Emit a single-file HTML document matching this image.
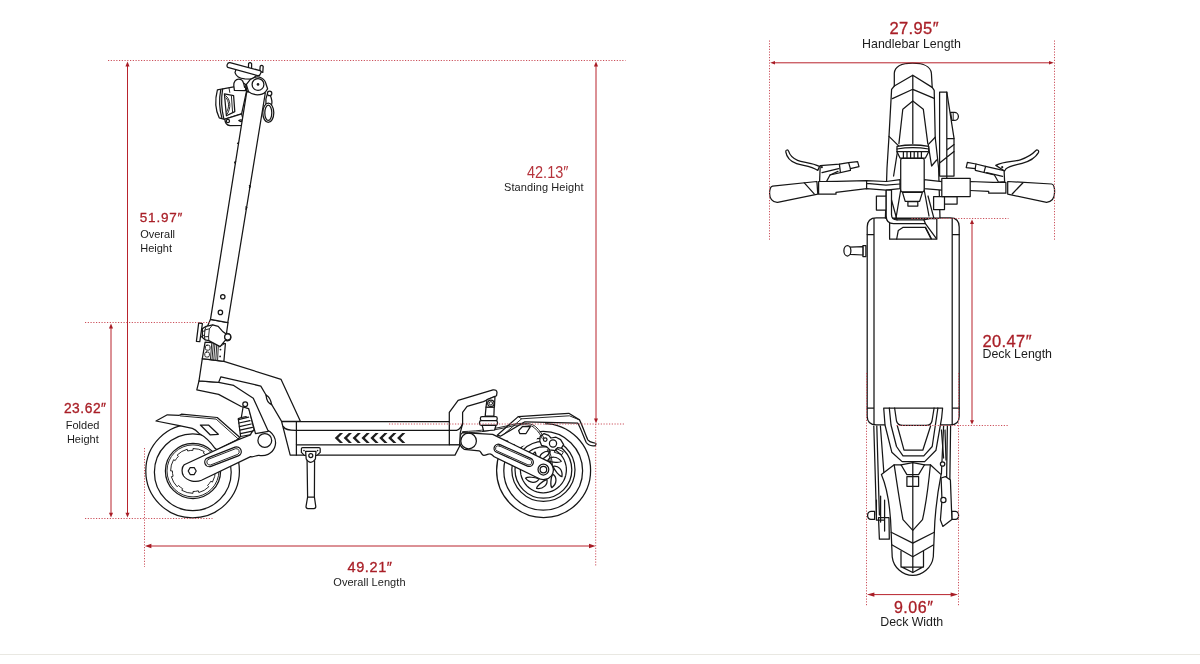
<!DOCTYPE html>
<html lang="en">
<head>
<meta charset="utf-8">
<title>Scooter Dimensions</title>
<style>
  html, body { margin: 0; padding: 0; background: #ffffff; }
  body { width: 1200px; height: 664px; overflow: hidden; font-family: "Liberation Sans", sans-serif; }
  svg { display: block; position: absolute; left: 0; top: 0; will-change: transform; transform: translateZ(0); }
  .num  { font-family: "Liberation Sans", sans-serif; fill: #a91f27; stroke: #a91f27; stroke-width: 0.3px; }
  .numl { font-family: "Liberation Sans", sans-serif; fill: #b5333b; }
  .lbl  { font-family: "Liberation Sans", sans-serif; fill: #1c1c1c; }
  .dim  { stroke: #b8232d; stroke-width: 1; fill: none; }
  .dot  { stroke: #cb4f5a; stroke-width: 1; fill: none; stroke-dasharray: 1.2 1.55; }
  .ah   { fill: #a81c25; stroke: none; }
  .art  { fill: none; stroke: #161616; stroke-width: 1.25; stroke-linejoin: round; stroke-linecap: round; }
  .artw { fill: #ffffff; stroke: #161616; stroke-width: 1.25; stroke-linejoin: round; stroke-linecap: round; }
  .thin { fill: none; stroke: #1c1c1c; stroke-width: 0.95; stroke-linejoin: round; stroke-linecap: round; }
  .blk  { fill: #1e1e1e; stroke: none; }
</style>
</head>
<body>
<svg width="1200" height="664" viewBox="0 0 1200 664">
  <rect x="0" y="0" width="1200" height="664" fill="#ffffff"/>
  <!-- bottom rule -->
  <rect x="0" y="654" width="1200" height="1" fill="#e9e8e2"/>

  <!-- ============ LABELS ============ -->
  <g id="labels">
    <text class="num" x="139.8" y="222.4" font-size="13.5" textLength="42.6" lengthAdjust="spacing">51.97″</text>
    <text class="lbl" x="140.2" y="238.4" font-size="11">Overall</text>
    <text class="lbl" x="140.2" y="252" font-size="11">Height</text>

    <text class="num" x="63.9" y="412.5" font-size="13.8" textLength="42.1" lengthAdjust="spacing">23.62″</text>
    <text class="lbl" x="82.6" y="429.4" font-size="11" text-anchor="middle">Folded</text>
    <text class="lbl" x="82.8" y="442.9" font-size="11" text-anchor="middle">Height</text>

    <text class="numl" x="527" y="177.5" font-size="16.6" textLength="41.4" lengthAdjust="spacingAndGlyphs">42.13″</text>
    <text class="lbl" x="504" y="190.9" font-size="11" textLength="79.5" lengthAdjust="spacing">Standing Height</text>

    <text class="num" x="347.5" y="571.5" font-size="14.5" textLength="44.5" lengthAdjust="spacing">49.21″</text>
    <text class="lbl" x="333.3" y="586" font-size="11" textLength="72.2" lengthAdjust="spacing">Overall Length</text>

    <text class="num" x="889.5" y="33.8" font-size="16.5" textLength="49" lengthAdjust="spacing">27.95″</text>
    <text class="lbl" x="862" y="47.8" font-size="12.4" textLength="99" lengthAdjust="spacing">Handlebar Length</text>

    <text class="num" x="982.5" y="346.8" font-size="16.5" textLength="49" lengthAdjust="spacing">20.47″</text>
    <text class="lbl" x="982.5" y="358.3" font-size="12.4" textLength="69.5" lengthAdjust="spacing">Deck Length</text>

    <text class="num" x="893.9" y="612.8" font-size="16" textLength="39" lengthAdjust="spacing">9.06″</text>
    <text class="lbl" x="880.3" y="625.8" font-size="12.4" textLength="62.9" lengthAdjust="spacing">Deck Width</text>
  </g>

  <!-- ============ SIDE VIEW ART ============ -->
  <g id="side">
    <!-- ===== front wheel ===== -->
    <circle class="artw" cx="192.6" cy="471" r="46.8"/>
    <circle class="art" cx="192.8" cy="472.2" r="38.4"/>
    <circle class="art" cx="193" cy="470.9" r="27.6"/>
    <circle class="thin" cx="193" cy="470.9" r="26"/>
    <path class="thin" d="M215.40 470.90 A22.4 22.4 0 0 1 212.40 482.10 L210.84 481.20 A20.6 20.6 0 0 1 207.57 485.47 L208.84 486.74 A22.4 22.4 0 0 1 198.80 492.54 L198.33 490.80 A20.6 20.6 0 0 1 193.00 491.50 L193.00 493.30 A22.4 22.4 0 0 1 181.80 490.30 L182.70 488.74 A20.6 20.6 0 0 1 178.43 485.47 L177.16 486.74 A22.4 22.4 0 0 1 171.36 476.70 L173.10 476.23 A20.6 20.6 0 0 1 172.40 470.90 L170.60 470.90 A22.4 22.4 0 0 1 173.60 459.70 L175.16 460.60 A20.6 20.6 0 0 1 178.43 456.33 L177.16 455.06 A22.4 22.4 0 0 1 187.20 449.26 L187.67 451.00 A20.6 20.6 0 0 1 193.00 450.30 L193.00 448.50 A22.4 22.4 0 0 1 204.20 451.50 L203.30 453.06 A20.6 20.6 0 0 1 207.57 456.33 L208.84 455.06 A22.4 22.4 0 0 1 214.64 465.10 L212.90 465.57 A20.6 20.6 0 0 1 213.60 470.90 Z"/>

    <!-- ===== front fender ===== -->
    <path class="artw" d="M156 421 L167.3 414.8 L179.3 415.3 L181.4 414.2 L217.2 417.5 L239.9 437.5 L236 440.4 L217 449.8 L215 448.3 C210.4 441.6 205 436.6 198.8 433.2 C196.6 430.6 194.6 429 192.3 428.3 L179.3 425.6 Z"/>
    <path class="thin" d="M180.3 415.9 L216.1 419.1 L237.8 438.6"/>
    <path class="art" d="M200.4 425 L208.5 425 L218.3 434.3 L210.1 434.8 Z"/>
    <!-- ===== front shock ===== -->
    <path class="artw" d="M243.2 406.5 L241.3 417.5 L238.3 418.6 L240.6 436.5 L255.2 433.8 L249 408.5 Z"/>
    <path class="art" d="M238.4 419.6 L248.6 417.2 M238.9 423 L250 420.6 M239.4 426.6 L251.2 424 M239.9 430.2 L252.4 427.4 M240.4 433.6 L253.6 430.8"/>
    <path class="art" d="M241.3 417.5 L246.2 416.6"/>

    <!-- ===== front swing arm ===== -->
    <path class="artw" d="M184.2 464.8 L237.7 439.9 L250.4 435 C252 430 257 427.6 264.8 429.6 C273 431 277.6 440 274.6 447.6 C272 454 265 456.5 259 455.4 C256 455 254.5 457.5 250.6 456.6 L201.5 480.2 C196 482.6 187.5 481.4 183.6 476 C181.4 472.6 181.6 467.2 184.2 464.8 Z"/>
    <circle class="art" cx="264.8" cy="440.4" r="6.9"/>
    <path class="art" d="M207.7 457.8 L235 447.2 A4.6 4.6 0 0 1 238.3 455.8 L211 466.4 A4.6 4.6 0 0 1 207.7 457.8 Z"/>
    <path class="thin" d="M208.3 459.3 L235.5 448.7 A3.1 3.1 0 0 1 237.7 454.4 L210.5 465 A3.1 3.1 0 0 1 208.3 459.3 Z"/>
    <path class="art" d="M196.2 471 L194.2 474.5 L190.2 474.5 L188.2 471 L190.2 467.5 L194.2 467.5 Z"/>
    <!-- ===== rear wheel ===== -->
    <circle class="artw" cx="543.6" cy="470.5" r="47"/>
    <circle class="art" cx="543.2" cy="470.8" r="39.4"/>
    <circle class="art" cx="543.4" cy="469.8" r="31.6"/>
    <circle class="art" cx="543.4" cy="469.8" r="28.4"/>
    <circle class="art" cx="543.4" cy="469.8" r="23" stroke-dasharray="5.2 0.9"/>
        <circle class="thin" cx="543.4" cy="469.8" r="9.6"/>
    <!-- disc spokes -->
    <g class="art" id="spk">
      <path d="M553.0 466.3 C558.1 465.0 562.9 469.8 562.0 476.6 C559.6 476.4 554.8 471.0 553.0 466.3 Z"/>
      <path d="M552.6 474.1 C557.2 476.8 557.2 483.6 551.8 487.7 C550.2 485.9 550.6 478.7 552.6 474.1 Z"/>
      <path d="M546.9 479.4 C548.2 484.5 543.4 489.3 536.6 488.4 C536.8 486.0 542.2 481.2 546.9 479.4 Z"/>
      <path d="M539.1 479.0 C536.4 483.6 529.6 483.6 525.5 478.2 C527.3 476.6 534.5 477.0 539.1 479.0 Z"/>
      <path d="M533.8 473.3 C528.7 474.6 523.9 469.8 524.8 463.0 C527.2 463.2 532.0 468.6 533.8 473.3 Z"/>
      <path d="M534.2 465.5 C529.6 462.8 529.6 456.0 535.0 451.9 C536.6 453.7 536.2 460.9 534.2 465.5 Z"/>
      <path d="M539.9 460.2 C538.6 455.1 543.4 450.3 550.2 451.2 C550.0 453.6 544.6 458.4 539.9 460.2 Z"/>
      <path d="M547.7 460.6 C550.4 456.0 557.2 456.0 561.3 461.4 C559.5 463.0 552.3 462.6 547.7 460.6 Z"/>
    </g>

    <!-- ===== rear fender ===== -->
    <path d="M499.6 436.4 L521.6 418.8 L548 420.6 L541 428 L536 441 L520 447 Z" fill="#ffffff" stroke="none"/>
    <path class="artw" d="M497.2 435.2 L518.2 416.6 L556.3 414.1 L568.8 413.3 L579.5 419.9 C583 427 585.4 435 587.8 439.8 C590.4 443.2 593.6 442 595.8 443.4 C596.4 445.4 594.4 446.2 593 445.8 C589.4 445.6 587.4 444.4 586.1 442.2 C583 435 580.6 428 577.9 423.2 L524.9 421.8 L500.4 436.2 Z"/>
    <path class="thin" d="M518.2 416.6 L521.6 418.8 L569.4 415.8 L579.5 419.9 M521.6 418.8 L503 435"/>
    <path class="art" d="M518.6 430.6 L522.3 426.7 L530.4 426.7 L526 433.5 L519.8 433.5 Z"/>

    <!-- ===== brake caliper ===== -->
    <path class="artw" d="M540.2 436.4 L544 433.6 L548.6 435.4 L551 438 L556 437.2 L560.6 439.6 L563.6 444.6 L561.4 448.2 L557.6 447.6 L555.4 450.6 L549.6 449.8 L546.6 446.6 L541.6 445.4 L539.8 441 Z"/>
    <circle class="art" cx="553" cy="443.4" r="3.6"/>
    <circle class="art" cx="545.2" cy="439.6" r="1.8"/>
    <path class="thin" d="M556.4 448.6 L563.4 451.8 L562 454.6 L554.6 452.4 Z"/>
    <!-- brake cable -->
    <path class="thin" d="M462.6 431.6 C480 431 495 429 515.3 423.9 C525 422.6 532 423.4 535.6 426.6 C540 430.6 542 434 543.6 437.6"/>
    <path class="thin" d="M462.6 433 C480 432.4 495 430.4 515.5 425.3 C524.6 424 531 424.8 534.4 427.8 C538.6 431.6 540.6 435 542.2 438.4"/>
    <path class="thin" d="M547.4 449.6 C549.6 455 550.6 462 551.2 469.4 M549 449.8 C551.2 455 552.4 462 552.8 469.4"/>

    <!-- ===== rear swing arm ===== -->
    <path class="artw" d="M462.4 432.6 L492.7 434.4 L548.2 461.4 C553.4 464.2 555 471.4 551.4 475.8 C548 480 541.6 480.6 537.4 477.8 L494.2 456.8 C492 454.4 491 453.6 489.7 453.8 C487 454 486.4 455.4 483.7 455.3 C481 455 481.4 451.2 479.2 450.8 L464.1 449.3 C461 447.4 459 443.6 459.6 440.6 C459.6 437 460.4 434.4 462.4 432.6 Z"/>
    <circle class="art" cx="468.6" cy="441" r="7.8"/>
    <path class="art" d="M500 444.6 L530.8 458.4 A4.2 4.2 0 0 1 527.4 466.1 L496.6 452.3 A4.2 4.2 0 0 1 500 444.6 Z"/>
    <path class="thin" d="M499.4 445.9 L530.2 459.7 A2.8 2.8 0 0 1 527.9 464.8 L497.1 451 A2.8 2.8 0 0 1 499.4 445.9 Z"/>
    <circle class="art" cx="543.4" cy="469.6" r="5.4"/>
    <circle class="art" cx="543.4" cy="469.6" r="3.3"/>

    <!-- ===== rear shock ===== -->
    <path class="artw" d="M486 407.2 L494.2 407.2 L493.9 416.1 L485.2 416.1 Z"/>
    <rect class="artw" x="480.4" y="416.6" width="16.8" height="4.1" rx="1.6"/>
    <rect class="artw" x="479.5" y="420.7" width="18" height="4.6" rx="1.8"/>
    <path class="artw" d="M482.2 425.3 L496 425.3 L494.6 430 L483.6 431 Z"/>
    <!-- ===== deck tail + grab handle ===== -->
    <path class="artw" d="M449.3 421.5 V412.4 L458.1 400.3 L493 389.9 Q496.6 389.4 497 392.4 L496.5 395.8 L483.4 401.6 L467.1 406.4 L462.6 412.4 V423.7 L460.3 432.7 L459.6 444.8 H449.3 Z"/>
    <path class="art" d="M449.3 430.4 L456.6 430.4 Q460.6 429 462.6 423.7"/>
    <path class="artw" d="M487 399.6 L495 396.4 L494.4 407.2 L486 407.2 Z"/>
    <circle class="art" cx="490.9" cy="403.3" r="3.2"/>
    <circle class="thin" cx="490.9" cy="403.3" r="1.7"/>
    <!-- ===== deck ===== -->
    <path class="artw" d="M281.6 421.5 H449.3 V444.8 H459.6 L459.6 446.3 L455 455.1 H290.2 Z"/>
    <path class="art" d="M296.4 421.4 V455"/>
    <path class="art" d="M296.4 430.4 H449.3 M296.4 444.8 H449.3"/>
    <path class="art" d="M283.4 426.6 C285 429.6 288 430.5 296.4 430.4"/>
    <!-- chevrons -->
    <g class="blk">
      <path d="M334.75 438 l5.2 -4.9 h3.1 l-4.9 4.9 l4.9 4.9 h-3.1 z"/>
      <path d="M343.65 438 l5.2 -4.9 h3.1 l-4.9 4.9 l4.9 4.9 h-3.1 z"/>
      <path d="M352.55 438 l5.2 -4.9 h3.1 l-4.9 4.9 l4.9 4.9 h-3.1 z"/>
      <path d="M361.45 438 l5.2 -4.9 h3.1 l-4.9 4.9 l4.9 4.9 h-3.1 z"/>
      <path d="M370.35 438 l5.2 -4.9 h3.1 l-4.9 4.9 l4.9 4.9 h-3.1 z"/>
      <path d="M379.25 438 l5.2 -4.9 h3.1 l-4.9 4.9 l4.9 4.9 h-3.1 z"/>
      <path d="M388.15 438 l5.2 -4.9 h3.1 l-4.9 4.9 l4.9 4.9 h-3.1 z"/>
      <path d="M397.05 438 l5.2 -4.9 h3.1 l-4.9 4.9 l4.9 4.9 h-3.1 z"/>
    </g>

    <!-- ===== kickstand ===== -->
    <path class="artw" d="M307 455 L307.6 497 L306 506.6 Q306 508.6 308 508.6 L313.8 508.6 Q315.8 508.6 315.8 506.6 L314.4 497 L314.6 455 Z"/>
    <path class="art" d="M307.6 497 H314.4"/>
    <path class="artw" d="M302.6 447.6 H319 Q320.2 447.6 320.2 448.8 V452.4 L317 455.4 H304.4 L301.4 452.4 V448.8 Q301.4 447.6 302.6 447.6 Z"/>
    <path class="artw" d="M305.6 451.4 H316 L315.4 459 Q313 462.4 310.8 462.4 Q308.4 462.4 306.2 459 Z"/>
    <circle class="art" cx="310.8" cy="455.6" r="2"/>
    <circle class="blk" cx="304" cy="450.6" r="0.8"/><circle class="blk" cx="317.6" cy="450.6" r="0.8"/>

    <!-- ===== neck (lower fork arm, behind) ===== -->
    <path class="artw" d="M199 380.9 L196.8 389.9 L218.6 394.4 L241.2 406.5 L248.7 408.7 L255.5 433.6 L268.3 431.3 L253.3 398.2 L233.7 385.4 L218.6 382.4 Z"/>
    <circle class="artw" cx="245.2" cy="404.3" r="2.4"/>
    <!-- ===== neck (upper body) ===== -->
    <path class="artw" d="M202.3 358.7 L223.9 361.3 L281.1 379.4 L300.5 421.4 L281.6 421.4 L265.3 393.7 L260.8 386.1 L220.9 376.8 L218.6 382.4 L199 380.9 Z"/>
    <path class="artw" d="M266 395 Q270.6 397.4 271.6 404.6 Q266.6 402.6 266 395 Z"/>

    <!-- ===== folding clamp ===== -->
    <path class="artw" d="M205.1 342.1 L225.4 343.6 L223.9 361.3 L202.3 358.7 Z"/>
    <path class="thin" d="M211.8 342.8 L210.4 359.6 M213.4 342.9 L212 359.8 M215 343 L213.8 360 M216.8 343.1 L215.8 360.2 M218.4 343.2 L217.6 360.4"/>
    <rect class="thin" x="205.4" y="345.2" width="4.6" height="5" rx="1.6"/>
    <rect class="thin" x="204.8" y="352" width="4.6" height="5" rx="1.6"/>
    <circle class="blk" cx="220.5" cy="349.6" r="0.9"/><circle class="blk" cx="220.1" cy="356.4" r="0.9"/>
    <path class="thin" d="M219.6 346.8 L224.6 343.6"/>
    <!-- stem lower continuation -->
    <path class="artw" d="M210.4 319.4 L228 322.6 L226.4 334 L207.6 326 Z"/>
    <!-- knob -->
    <path class="artw" d="M198.7 322.9 L202.4 323.7 L199.8 341.7 L196.4 341.4 Z"/>
    <path class="art" d="M201.6 329.6 L203.4 329.2 M200.8 336.6 L202.6 337"/>
    <!-- clamp body -->
    <path class="artw" d="M202.4 328.6 L206.2 326.3 L212.6 324.8 L218.2 326.3 L222.4 331.2 L225.4 333.6 C228.4 332.6 231 334.6 230.8 337.4 C230.6 340.2 228 341.6 225.4 340.2 L220.1 346.6 L208.8 340.6 L205.1 339.8 L202.4 337.6 Z"/>
    <circle class="artw" cx="227.7" cy="336.9" r="3.1"/>
    <path class="thin" d="M206.2 326.3 L204.9 330 L204.4 336.8 L205.1 339.8 M212.6 324.8 L209.4 328.8 L208.6 336.6 L208.8 340.6 M204.9 330 L209.4 328.8 M204.4 336.8 L208.6 336.6 M202.4 331.4 L204.8 331 M202.4 335.4 L204.4 335.4"/>
    <!-- ===== headlight ===== -->
    <path class="artw" d="M217.4 89.8 L241.8 85.4 L246.6 90.8 L241.6 113.9 L224.6 119.3 L219.2 117.8 C215 109 215 99 217.4 89.8 Z"/>
    <path class="art" d="M220.7 90 C219 99 219.4 109 221.8 117.6 M222.6 89.2 C221 99 221.4 109 223.8 118.6"/>
    <path class="art" d="M224.4 93.8 L233.6 95.6 L234.8 111.6 L226.4 115.8 Z"/>
    <path class="thin" d="M225.6 95.6 C230.6 99 231.4 108 227.2 114 M226 97.8 C229 101 229.6 107 226.8 111.6 M231.4 96 L232.6 112.4 M229 88 L229.8 92.4 M236.6 86.6 L237.6 90.6"/>
    <path class="artw" d="M224.8 119.1 L241.6 113.9 L244.8 125.5 L230 125.7 C227 125.2 225 122.6 224.8 119.1 Z"/>
    <circle class="art" cx="227.9" cy="120.9" r="1.6"/>
    <path class="art" d="M238.8 120.6 Q241 119.2 242.6 120.8 Q240.8 122.4 238.8 120.6 Z"/>

    <!-- ===== stem ===== -->
    <path class="artw" d="M246.8 91.6 L265.3 93 L227.8 322.6 L210.5 319.3 Z"/>
    <circle class="art" cx="222.8" cy="296.8" r="2.2"/>
    <circle class="art" cx="220.4" cy="312.4" r="2.2"/>
    <path class="art" d="M235.6 161.6 l-1 0.6 l0.8 1.4 M249.4 185.6 l1 0.6 l-1 1.6 M245.8 207 l1 0.6 l-1 1.6 M238.4 142.6 l-0.9 0.8"/>
    <!-- ===== phone mount ===== -->
    <path class="artw" d="M248.4 68.2 L248.6 63.4 Q250 61.8 251.6 63.6 L251.6 69.2 Z"/>
    <path class="artw" d="M259.8 71.4 L260.2 66.2 Q261.6 64.6 263.2 66.4 L262.8 72.4 Z"/>
    <path class="artw" d="M235 72.6 C236 76 240 78.4 244.8 78.8 L252.2 79.2 L257.6 74.4 L236.2 68.6 Z"/>
    <path class="artw" d="M227.2 64.6 Q228 62.2 230 62.6 L260 70.6 Q261.6 71.4 260.8 73 L259.8 75 Q259 76 257.6 75.6 L227.8 67.4 Q226.6 66.6 227.2 64.6 Z"/>
    <!-- clamp -->
    <path class="artw" d="M233.8 85.6 C233.4 81.6 236 79 238.6 79 C241 79 243 80.6 243.4 83 L246 84.8 L245.4 90.6 L234.4 90.4 Z"/>
    <path class="artw" d="M246 84.8 L250.4 79.4 L254 77.6 C259 75.6 265 78.6 266 84 L267.6 88.8 L265.4 92 C262 95.6 253 96 248.6 91.6 L246.6 90.8 Z"/>
    <circle class="artw" cx="258" cy="84.4" r="5.9"/>
    <circle class="blk" cx="258" cy="84.4" r="1.3"/>
    <path class="art" d="M246.4 84.6 L248.4 91.4 M243.6 83.2 L244.6 87.4"/>
    <!-- carabiner -->
    <circle class="art" cx="269.6" cy="93.4" r="2.2"/>
    <path class="art" d="M267.2 94.6 C265.6 98 265.4 101 266 104.4"/>
    <ellipse class="artw" cx="268.3" cy="112.8" rx="5.5" ry="9.6"/>
    <ellipse class="art" cx="268.3" cy="112.8" rx="3.5" ry="7.6"/>
    <path class="art" d="M270.4 95.4 C271.8 99 272.4 101.6 271.6 104.6"/>
  </g>

  <!-- ============ TOP VIEW ART ============ -->
  <g id="top">
    <!-- ===== deck (top) ===== -->
    <path class="artw" d="M876.4 217.8 H950.4 Q959.2 217.8 959.2 227 V416.2 Q959.2 424.8 950.4 424.8 H876.4 Q867.2 424.8 867.2 416.2 V227 Q867.2 217.8 876.4 217.8 Z"/>
    <path class="art" d="M874 218.6 V424.2 M952.2 218.6 V424.2 M867.2 234.5 H874 M952.2 234.5 H959.2 M867.2 408 H874 M952.2 408 H959.2"/>
    <!-- left peg -->
    <path class="artw" d="M862.9 245.6 H865.9 V256.6 H862.9 Z"/>
    <path class="artw" d="M850 247.2 L862.9 246.6 V255 L850 254.4 Z"/>
    <ellipse class="artw" cx="847.4" cy="250.8" rx="3.5" ry="5.2"/>

    <!-- ===== front wheel / fender (top) ===== -->
    <path class="artw" d="M894.3 86 V73.2 C895 66 903 63.2 912.6 63.2 C922 63.2 930.6 66 931.4 73.2 L932.2 87.4 L934.2 90.4 L935.2 137.2 L938.6 168 L940 218 H885.4 L887 168 L889 136.4 L891.6 89.4 Z"/>
    <path class="art" d="M894.3 86 L912.8 75.2 L932.2 87.4 M892.4 98.6 L912.8 89.3 L934.2 98.4 M912.8 75.2 V143.4"/>
    <path class="art" d="M898.9 143.6 L902.8 109.2 L912.8 101.1 L923.3 109.2 L927.8 143.6"/>
    <path class="art" d="M889 136.4 L898.4 145.6 L893.6 176 M935.2 137.2 L928.2 144.6 L931.6 166 L936.6 160"/>
    <!-- right side panel -->
    <path class="artw" d="M939.6 92 H946.8 L954 138.2 V176 H939.6 Z"/>
    <path class="art" d="M946.8 92 V178 M946.8 138.6 H954 M947 150 L954 144.6 M939.6 163 L954 151.6"/>
    <path class="artw" d="M950.6 112.4 H954.4 A4 4 0 0 1 954.4 120.4 H951.8 Z"/>
    <path class="thin" d="M953.2 112.6 V120.2"/>
    <!-- ===== handlebar: left ===== -->
    <path class="artw" d="M818.6 181.5 L836.6 181.4 L866.6 180.6 L886.4 181.5 L900 179.6 V188.6 L886 190.2 L866.6 188.7 L836 192.3 V194.2 L818.6 194.2 Z"/>
    <path class="art" d="M866.6 180.6 V188.7 M866.6 183.4 L886 185.2 L900 184"/>
    <path class="artw" d="M772.6 186.2 L816.9 181.5 L817.8 194.1 L777.6 202.3 C772 202.6 769.6 198 769.6 193.6 C769.6 189 770.6 186.6 772.6 186.2 Z"/>
    <path class="art" d="M804.3 182.8 L814.2 193.8"/>
    <!-- left brake -->
    <path class="artw" d="M820.2 165.6 L839.4 164.2 L848.6 162.6 L857.6 161.6 L859 166.6 L850.4 168.6 L850.4 170.4 L830 175 L826.6 181.4 L819.6 181.5 Z"/>
    <path class="art" d="M839.4 164.2 L840.4 172.4 M848.6 162.6 L850.4 168.6 M822 172.6 L838.6 168.6 M830 175 L838 171.4"/>
    <path class="artw" d="M819.4 166.4 C812 162.4 803 162.6 797.6 160.4 C792 158 789.4 154 788.6 151.2 C788 149.4 785.6 149.6 785.8 151.8 C786.6 157 790.6 161.4 796.6 163.6 C803 165.8 811 166 817.8 170.4 Z"/>
    <circle class="blk" cx="821.8" cy="167.2" r="1.1"/>

    <!-- ===== handlebar: right ===== -->
    <path class="artw" d="M924 179.6 L942 181.6 L970.1 181.5 L993.2 182.4 L1005.9 182.4 V193.2 L988.7 193.2 V191.4 L970.1 190.5 L942 190.2 L924 188.6 Z"/>
    <path class="artw" d="M1007.7 181.5 L1051.6 184 C1054 184.4 1054.6 188 1054.6 192 C1054.6 197 1053 201.6 1046.6 202.3 L1007.7 194.1 Z"/>
    <path class="art" d="M1023 182.7 L1012.2 194"/>
    <!-- right brake -->
    <path class="artw" d="M967.4 162.4 L976 164 L985.6 166.4 L1004.1 170.6 L1004.6 181.6 L998.6 182.2 L994.4 175 L975.4 170.4 L975.2 168.6 L966.2 167.6 Z"/>
    <path class="art" d="M976 164 L975.2 168.6 M985.6 166.4 L984 172.4 M986.6 172.6 L1002.6 176.4"/>
    <path class="artw" d="M995.8 165.4 C1004 160.6 1014 162 1020.3 159.8 C1027 157.6 1032.6 154 1035.6 150.8 C1037 149 1039.4 150.4 1038.4 152.6 C1035.6 157.6 1029 161.4 1022.1 163.4 C1016 165.2 1010 165.4 1005.8 169 L1004.6 171 Z"/>
    <circle class="blk" cx="1002.2" cy="167.2" r="1.1"/>
    <!-- display -->
    <path class="artw" d="M944.5 196.5 H957.1 V204.1 H944.5 Z M933.6 196.5 H944.5 V209.5 H933.6 Z"/>
    <rect class="artw" x="941.8" y="178.4" width="28.4" height="18.1"/>

    <!-- ===== centre stem / latch ===== -->
    <path class="artw" d="M876.4 196 H886.2 V210 H876.4 Z"/>
    <path class="artw" d="M889.6 218.6 H936.8 V239.2 H889.6 Z"/>
    <path class="art" d="M896.7 239 L898.3 230.4 L902.8 227.4 H925.4 L931.4 238.8"/>
    <path class="artw" d="M886.2 190 V216 Q886.2 223.6 893.6 223.6 H925.4 L923.9 219.9 H897 Q891.5 219.9 891.5 214.6 V190 Z"/>
    <path class="art" d="M925.4 223.6 L936.4 238.6 M923.9 219.9 L929 218.6 M891.5 200 L897 219.9 M928 196 L934 218.6 M925.4 227.4 L931 238.6"/>
    <!-- headlight / cockpit -->
    <path class="artw" d="M897 146.4 Q912.8 143.6 928.7 146.4 L928.7 151.7 L925.4 158 H900 L897 151.7 Z"/>
    <path class="art" d="M897 151.7 H928.7 M903.4 152 V157.6 M907 152 V157.6 M910.6 152 V157.6 M914.2 152 V157.6 M917.8 152 V157.6 M921.4 152 V157.6 M897 149 Q912.8 146.2 928.7 149"/>
    <rect class="artw" x="900.7" y="158.4" width="23.5" height="33.4" rx="1.6"/>
    <path class="artw" d="M902.5 192.4 H922.4 L919.6 201.4 H905.2 Z"/>
    <rect class="artw" x="907.9" y="201.6" width="9.9" height="4.4"/>
    <path class="art" d="M900.7 190 L896 218 M924.2 190 L929 216"/>
    <!-- ===== rear (top) ===== -->
    <!-- arms -->
    <path class="art" d="M873.8 426 L876.4 515 M876.8 426 L879.4 515 M880.4 426 L884.4 480 M950.6 426 L949.4 515 M947.4 426 L946.4 492 M943.6 426 L941.4 474"/>
    <path class="artw" d="M883.7 408 H942.6 L941.6 418.2 L936 450.2 L924.7 461.6 H902.1 L891.8 452.2 L885 425 Z"/>
    <path class="art" d="M889.3 408 L891 425 L896.5 446.5 L903 455.9 H923.8 L932.2 446.5 L937.9 408"/>
    <path class="art" d="M894.6 408 L896.5 421 Q897.6 425.4 903 425.4 H926 Q931 425.4 932 421 L934.1 408"/>
    <path class="art" d="M897.4 426 L904 450.2 H922.8 L930.6 426"/>
    <!-- rear fender -->
    <path class="artw" d="M894.2 464.8 H901 L906.9 474.6 H918.6 L924.5 464.8 H930.4 L941.1 474.6 C938 490 935 510 934.3 533.3 L933.3 556.8 C932 568 922 575.4 912.8 575.4 C903 575.4 893.6 568 892.2 556.8 L891.2 533.3 C890.6 510 888 490 881.4 474.6 Z"/>
    <path class="art" d="M901 464.8 L912.8 462.6 L924.5 464.8"/>
    <path class="art" d="M894.2 464.8 C897 484 900 504 903 519.6 L912.8 530.4 L922.5 519.6 C926 504 928.6 484 930.4 464.8"/>
    <path class="art" d="M912.8 462.6 V572.4"/>
    <path class="art" d="M891.2 532.3 L912.8 543.1 L934.3 532.3 M892.2 545 L912.8 556.8 L933.3 545"/>
    <path class="art" d="M901 551 V566.6 L912.8 572.5 L923.5 566.6 V551 M901 567 H923.5"/>
    <rect class="artw" x="906.9" y="476.5" width="11.7" height="9.8"/>
    <path class="art" d="M912.8 476.5 V486.3"/>
    <!-- axle nuts -->
    <path class="artw" d="M874.6 511.4 H871 Q867.6 511.8 867.6 515.4 Q867.6 519 871 519.4 H874.6 Z"/>
    <path class="artw" d="M951.8 511.4 H955.4 Q958.6 511.8 958.6 515.4 Q958.6 519 955.4 519.4 H951.8 Z"/>
    <!-- left cylinder -->
    <path class="artw" d="M878.5 517.6 H889 L889.3 539.2 H879.4 Z"/>
    <path class="art" d="M876.4 500 V520 H884.6 V500 M880.6 496 V522 M884.6 510 V531"/>
    <!-- right caliper -->
    <path class="artw" d="M941.1 478 L945.4 476.6 L950.4 480 L951.9 519.6 L942.8 526.4 L940.4 520 L942 500 Z"/>
    <circle class="artw" cx="943.4" cy="500" r="2.6"/>
    <circle class="artw" cx="942.6" cy="464" r="2.2"/>
    <path class="art" d="M941.4 430 L943.6 458 M945 430 L946 460"/>
  </g>
  <!-- ============ DIMENSION GUIDES (dotted) ============ -->
  <g id="dots">
    <!-- side view -->
    <line class="dot" x1="108" y1="60.5" x2="625.5" y2="60.5"/>
    <line class="dot" x1="85"  y1="322.5" x2="210" y2="322.5"/>
    <line class="dot" x1="85"  y1="518.5" x2="212.5" y2="518.5"/>
    <line class="dot" x1="144.5" y1="448" x2="144.5" y2="567"/>
    <line class="dot" x1="595.7" y1="424" x2="595.7" y2="567"/>
    <line class="dot" x1="389" y1="424" x2="625.5" y2="424"/>
    <!-- top view -->
    <line class="dot" x1="769.5" y1="40.5" x2="769.5" y2="240"/>
    <line class="dot" x1="1054.5" y1="40.5" x2="1054.5" y2="240"/>
    <line class="dot" x1="911.5" y1="218.5" x2="1008.5" y2="218.5"/>
    <line class="dot" x1="896.5" y1="425.5" x2="1008.5" y2="425.5"/>
    <line class="dot" x1="866.5" y1="373" x2="866.5" y2="606"/>
    <line class="dot" x1="958.5" y1="373" x2="958.5" y2="606"/>
  </g>

  <!-- ============ DIMENSION ARROWS ============ -->
  <g id="dims">
    <!-- overall height -->
    <line class="dim" x1="127.5" y1="65" x2="127.5" y2="514"/>
    <path class="ah" d="M127.5 61.6 L129.55 66.4 L125.45 66.4 Z"/>
    <path class="ah" d="M127.5 517.6 L129.55 512.8 L125.45 512.8 Z"/>
    <!-- folded height -->
    <line class="dim" x1="111" y1="327" x2="111" y2="514"/>
    <path class="ah" d="M111 323.6 L113.05 328.4 L108.95 328.4 Z"/>
    <path class="ah" d="M111 517.6 L113.05 512.8 L108.95 512.8 Z"/>
    <!-- standing height -->
    <line class="dim" x1="596" y1="65" x2="596" y2="419"/>
    <path class="ah" d="M596 61.6 L598.05 66.4 L593.95 66.4 Z"/>
    <path class="ah" d="M596 423.2 L598.05 418.4 L593.95 418.4 Z"/>
    <!-- overall length -->
    <line class="dim" x1="150" y1="546" x2="590" y2="546"/>
    <path class="ah" d="M144.8 546 L151.4 543.85 L151.4 548.15 Z"/>
    <path class="ah" d="M595.6 546 L589 543.85 L589 548.15 Z"/>
    <!-- handlebar length -->
    <line class="dim" x1="774" y1="62.8" x2="1050" y2="62.8"/>
    <path class="ah" d="M770.2 62.8 L775 61 L775 64.6 Z"/>
    <path class="ah" d="M1053.8 62.8 L1049 61 L1049 64.6 Z"/>
    <!-- deck length -->
    <line class="dim" x1="972" y1="223" x2="972" y2="421"/>
    <path class="ah" d="M972 219.6 L974 224 L970 224 Z"/>
    <path class="ah" d="M972 424.6 L974 420.2 L970 420.2 Z"/>
    <!-- deck width -->
    <line class="dim" x1="872" y1="594.6" x2="953" y2="594.6"/>
    <path class="ah" d="M867 594.6 L874.4 592.45 L874.4 596.75 Z"/>
    <path class="ah" d="M958 594.6 L950.6 592.45 L950.6 596.75 Z"/>
  </g>


</svg>
</body>
</html>
